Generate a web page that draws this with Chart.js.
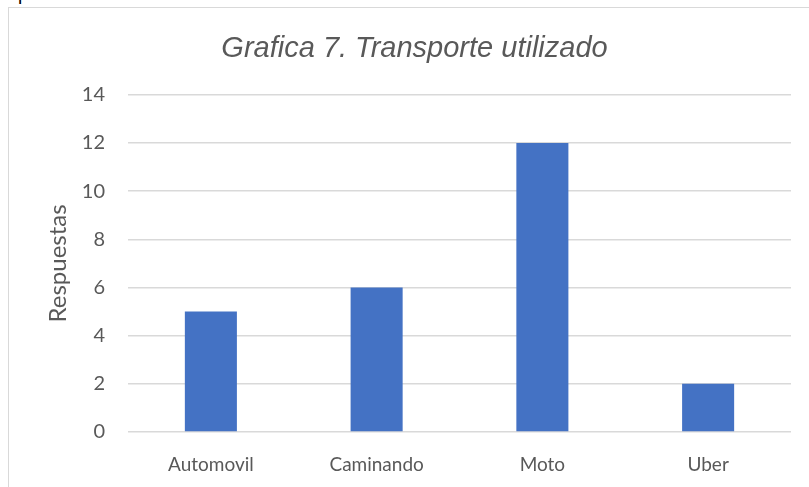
<!DOCTYPE html>
<html>
<head>
<meta charset="utf-8">
<script src="https://cdn.jsdelivr.net/npm/chart.js@4.4.0/dist/chart.umd.min.js"></script>
<style>
    body { margin: 0; background: #fff; }
    #wrap { position: relative; width: 809px; height: 487px; overflow: hidden; }
    #frame { position: absolute; left: 8px; top: 7px; width: 820px; height: 500px;
             border-left: 1px solid #d9d9d9; border-top: 1px solid #d9d9d9; }
    #prev { position: absolute; left: 18px; top: -17px; font: 19px "Liberation Sans"; color: #000; }
    #chart { position: absolute; left: 0; top: 0; }
</style>
</head>
<body>
<div id="wrap">
    <div id="prev">p</div>
    <div id="frame"></div>
    <canvas id="chart" width="809" height="487"></canvas>
</div>
<script>
// Datos de la grafica
const categorias = ['Automovil', 'Caminando', 'Moto', 'Uber'];
const respuestas = [5, 6, 12, 2];
const tituloGrafica = 'Grafica 7. Transporte utilizado';
const tituloEjeY = 'Respuestas';

const gris = '#595959';
const lineaGrid = '#d9d9d9';

const ctx = document.getElementById('chart').getContext('2d');
new Chart(ctx, {
    type: 'bar',
    data: {
        labels: categorias,
        datasets: [{
            label: tituloEjeY,
            data: respuestas,
            backgroundColor: '#4472c4',
            borderWidth: 0,
            barPercentage: 0.314,
            categoryPercentage: 1
        }]
    },
    options: {
        responsive: false,
        animation: false,
        devicePixelRatio: 1,
        // el margen izquierdo centra el titulo como en la original
        layout: { padding: { left: 38, right: 18, top: 0, bottom: 0 } },
        plugins: {
            legend: { display: false },
            tooltip: { enabled: false },
            title: {
                display: true,
                text: tituloGrafica,
                color: gris,
                font: { family: 'Liberation Sans', size: 29, style: 'italic', weight: 'normal' },
                padding: { top: 32, bottom: 28 }
            }
        },
        scales: {
            x: {
                grid: { display: false },
                border: { display: false },
                ticks: {
                    color: gris,
                    font: { family: 'Lato', size: 19 },
                    padding: 13
                },
                afterFit: (scale) => { scale.height = 55; }
            },
            y: {
                min: 0,
                max: 14,
                ticks: {
                    stepSize: 2,
                    color: gris,
                    font: { family: 'Lato', size: 20 },
                    padding: 23
                },
                grid: { color: lineaGrid, lineWidth: 1.5, drawTicks: false },
                border: { display: false },
                title: {
                    display: true,
                    text: tituloEjeY,
                    color: gris,
                    font: { family: 'Lato', size: 24 },
                    padding: { top: 6, bottom: 0 }
                },
                afterFit: (scale) => { scale.width = 90; }
            }
        }
    }
});
</script>
</body>
</html>
